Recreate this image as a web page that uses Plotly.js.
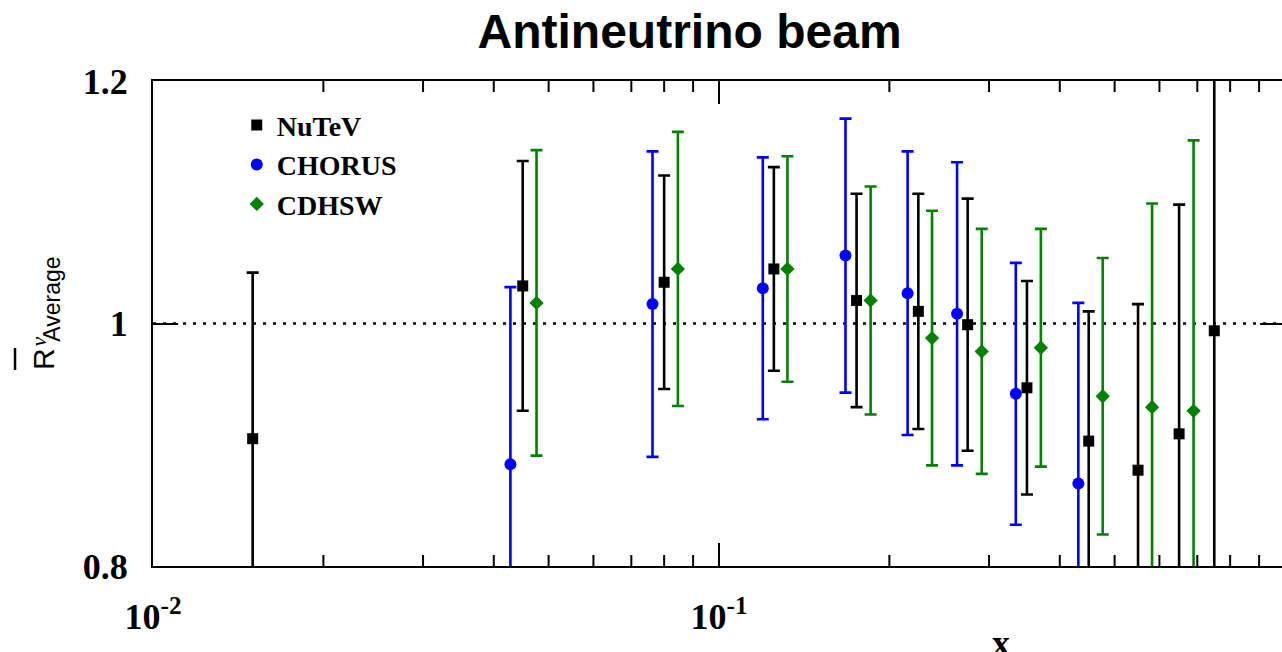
<!DOCTYPE html>
<html>
<head>
<meta charset="utf-8">
<script src="https://cdn.plot.ly/plotly-3.0.1.min.js"></script>
<style>
html, body { margin: 0; padding: 0; overflow: hidden; background: #fff; }
#chart { width: 1288px; height: 652px; }
</style>
</head>
<body>
<div id="chart"></div>
<script>
// ---- Data ----
const nutevX   = [0.015, 0.045, 0.080, 0.125, 0.175, 0.225, 0.275, 0.35, 0.45, 0.55, 0.65, 0.75];
const nutevY   = [0.905, 1.031, 1.034, 1.045, 1.019, 1.010, 0.999, 0.947, 0.903, 0.879, 0.909, 0.994];
const nutevErr = [0.137, 0.103, 0.088, 0.084, 0.088, 0.097, 0.104, 0.088, 0.107, 0.137, 0.189, 0.300];

const chorusX   = [0.0428, 0.0763, 0.1195, 0.1673, 0.2154, 0.2634, 0.3345, 0.4314];
const chorusY   = [0.884, 1.016, 1.029, 1.056, 1.025, 1.008, 0.942, 0.868];
const chorusErr = [0.146, 0.126, 0.108, 0.113, 0.117, 0.125, 0.108, 0.149];

const cdhswX   = [0.0476, 0.0846, 0.1321, 0.1853, 0.2379, 0.2912, 0.3704, 0.4764, 0.5823, 0.6894];
const cdhswY   = [1.017, 1.045, 1.045, 1.019, 0.988, 0.977, 0.980, 0.940, 0.931, 0.928];
const cdhswErr = [0.126, 0.113, 0.093, 0.094, 0.105, 0.101, 0.098, 0.114, 0.168, 0.223];

const xTickVals = [0.01, 0.1, 1];
const xTickText = ['10<sup>-2</sup>', '10<sup>-1</sup>', '1'];
const xMinorVals = [0.02,0.03,0.04,0.05,0.06,0.07,0.08,0.09,0.2,0.3,0.4,0.5,0.6,0.7,0.8,0.9];
const yTickVals = [0.8, 1.0, 1.2];
const yTickText = ['0.8', '1', '1.2'];
const referenceLevel = 1.0;
const X_LOG_RANGE = [-2, 0];

// ---- Styling ----
const BLACK = '#000000', BLUE = '#0000ff', GREEN = '#008200';
function series(name, xs, ys, errs, color, symbol, size) {
  return {
    type: 'scatter', mode: 'markers', name: name,
    x: xs, y: ys,
    marker: { color: color, symbol: symbol, size: size },
    error_y: { type: 'data', array: errs, visible: true, color: color, thickness: 2.6, width: 6 }
  };
}

const traces = [
  series('NuTeV', nutevX, nutevY, nutevErr, BLACK, 'square', 11),
  series('CHORUS', chorusX, chorusY, chorusErr, BLUE, 'circle', 12),
  series('CDHSW', cdhswX, cdhswY, cdhswErr, GREEN, 'diamond', 11)
];

const serifBold = { family: 'Liberation Serif', size: 36, color: '#000', weight: 700 };

// short minor tick marks (bottom and mirrored top), placed as fractions of the log axis
const MINOR_FRAC = 11 / 485;
const minorTickShapes = [];
xMinorVals.forEach(v => {
  const px = (Math.log10(v) - X_LOG_RANGE[0]) / (X_LOG_RANGE[1] - X_LOG_RANGE[0]);
  minorTickShapes.push({ type: 'line', xref: 'paper', yref: 'paper', x0: px, x1: px, y0: 0, y1: MINOR_FRAC,
    line: { color: '#000', width: 2 } });
  minorTickShapes.push({ type: 'line', xref: 'paper', yref: 'paper', x0: px, x1: px, y0: 1 - MINOR_FRAC, y1: 1,
    line: { color: '#000', width: 2 } });
});

const layout = {
  width: 1288, height: 652,
  margin: { l: 153, r: 3, t: 81, b: 86 },
  paper_bgcolor: '#fff', plot_bgcolor: '#fff',
  showlegend: true,
  legend: {
    x: 0.074, y: 0.96, xanchor: 'left', yanchor: 'top',
    font: { family: 'Liberation Serif', size: 28, color: '#000', weight: 700 },
    bgcolor: 'rgba(0,0,0,0)', borderwidth: 0
  },
  title: {
    text: 'Antineutrino beam',
    font: { family: 'Liberation Sans', size: 48, color: '#000', weight: 700 },
    xref: 'paper', x: 0.474, xanchor: 'center',
    yref: 'container', y: 0.978, yanchor: 'top'
  },
  xaxis: {
    type: 'log', range: X_LOG_RANGE,
    tickmode: 'array', tickvals: xTickVals, ticktext: xTickText,
    ticks: 'inside', ticklen: 23, tickwidth: 2, tickcolor: '#000',
    showline: true, linecolor: '#000', linewidth: 2, mirror: 'ticks',
    showgrid: false, zeroline: false,
    tickfont: serifBold, ticklabelstandoff: 18
  },
  yaxis: {
    range: [0.8, 1.2],
    tickmode: 'array', tickvals: yTickVals, ticktext: yTickText,
    ticks: 'inside', ticklen: 25, tickwidth: 2, tickcolor: '#000',
    showline: true, linecolor: '#000', linewidth: 2, mirror: 'ticks',
    showgrid: false, zeroline: false,
    tickfont: serifBold, ticklabelstandoff: 16
  },
  shapes: [
    { type: 'line', xref: 'paper', x0: 0, x1: 1, yref: 'y', y0: referenceLevel, y1: referenceLevel,
      line: { color: '#000', width: 2.5, dash: '3px,7px' }, layer: 'below' },
    { type: 'line', xref: 'paper', yref: 'paper', x0: -0.1219, x1: -0.1219, y0: 0.4495, y1: 0.4041,
      line: { color: '#000', width: 2.5 } }
  ].concat(minorTickShapes),
  annotations: [
    { text: 'x', xref: 'paper', yref: 'paper', x: 0.749, y: -0.158, xanchor: 'center', yanchor: 'middle',
      showarrow: false, font: serifBold },
    { text: 'R', xref: 'paper', yref: 'paper', x: -0.0967, y: 0.4258, xanchor: 'center', yanchor: 'middle',
      textangle: -90, showarrow: false, font: { family: 'Liberation Sans', size: 30, color: '#000' } },
    { text: 'Average', xref: 'paper', yref: 'paper', x: -0.0895, y: 0.5505, xanchor: 'center', yanchor: 'middle',
      textangle: -90, showarrow: false, font: { family: 'Liberation Sans', size: 23, color: '#000' } },
    { text: '<i>ν</i>', xref: 'paper', yref: 'paper', x: -0.1015, y: 0.4629, xanchor: 'center', yanchor: 'middle',
      textangle: -90, showarrow: false, font: { family: 'Liberation Serif', size: 22, color: '#000' } }
  ]
};

Plotly.newPlot('chart', traces, layout, { displayModeBar: false, staticPlot: true });
</script>
</body>
</html>
